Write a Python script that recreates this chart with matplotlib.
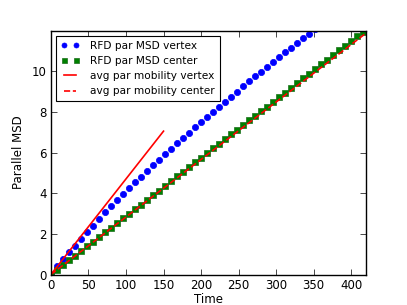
import numpy as np
import matplotlib
matplotlib.use("Agg")
import matplotlib.pyplot as plt

# sample times
times = np.arange(0, 417, 8)

vertex_msd = [0.0, 0.40, 0.74, 1.09, 1.42, 1.75, 2.07, 2.40, 2.72, 3.05, 3.38,
              3.66, 3.95, 4.24, 4.53, 4.80, 5.08, 5.37, 5.64, 5.92, 6.18,
              6.45, 6.72, 6.98, 7.23, 7.49, 7.75, 8.00, 8.25, 8.50, 8.74,
              9.00, 9.25, 9.50, 9.74, 9.98, 10.22, 10.46, 10.70, 10.93, 11.16,
              11.39, 11.62, 11.85, 12.08, 12.31, 12.54, 12.77, 13.00, 13.23,
              13.46, 13.69, 13.92]

center_msd = [0.0, 0.23, 0.46, 0.69, 0.92, 1.15, 1.38, 1.61, 1.84, 2.07, 2.30,
              2.53, 2.76, 2.99, 3.21, 3.44, 3.67, 3.90, 4.13, 4.36, 4.59,
              4.82, 5.05, 5.28, 5.51, 5.74, 5.97, 6.20, 6.43, 6.66, 6.89,
              7.12, 7.35, 7.58, 7.80, 8.03, 8.26, 8.49, 8.72, 8.95, 9.18,
              9.41, 9.64, 9.87, 10.10, 10.33, 10.56, 10.79, 11.02, 11.25,
              11.48, 11.71, 11.94]

# mobility lines
vertex_t = [0, 150]
vertex_line = [0, 7.05]
center_t = [0, 420]
center_line = [0, 11.88]

plt.rcParams['font.size'] = 8

fig = plt.figure(figsize=(4.07, 3.05), dpi=100)
ax = fig.add_axes([0.125, 0.1, 0.775, 0.8])

ax.plot(times, vertex_msd, 'bo', ms=4.5, mec='b', mew=0.5, label='RFD par MSD vertex')
ax.plot(times, center_msd, 's', color='green', ms=4.5, mec='#1a6e1a', mew=0.5,
        label='RFD par MSD center')
ax.plot(vertex_t, vertex_line, 'r-', lw=1.2, label='avg par mobility vertex')
ax.plot(center_t, center_line, 'r--', lw=1.2, label='avg par mobility center')

ax.set_xlim(0, 420)
ax.set_ylim(0, 12)
ax.set_xticks(range(0, 401, 50))
ax.set_yticks(range(0, 11, 2))
ax.tick_params(direction='in', top=True, right=True, length=4, width=0.5,
               pad=3, labelsize=8.5)
for s in ax.spines.values():
    s.set_linewidth(1)

ax.set_xlabel('Time', labelpad=1, fontsize=8.5)
ax.set_ylabel('Parallel MSD', labelpad=5, fontsize=8.5)

leg = ax.legend(loc='upper left', numpoints=2, fancybox=False, framealpha=1,
                edgecolor='black', borderaxespad=0.5, handlelength=1.7,
                borderpad=0.45, labelspacing=0.5, handletextpad=1.1,
                markerscale=0.8, fontsize=7.6)
leg.get_frame().set_linewidth(0.8)

fig.savefig('out.png', dpi=100)
